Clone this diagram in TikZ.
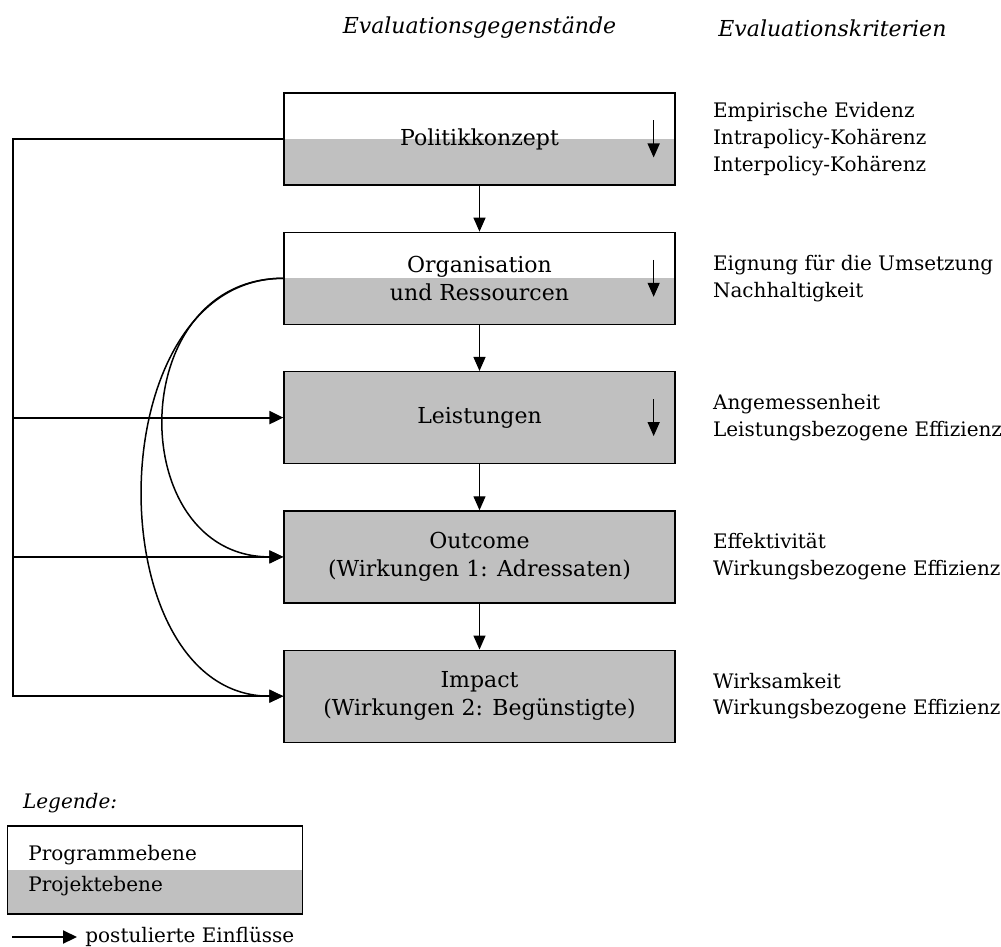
\documentclass[tikz,border=0pt]{standalone}
\usepackage{fontspec}
\setmainfont{DejaVu Serif}
\usetikzlibrary{arrows.meta, calc, positioning}
\definecolor{lgray}{RGB}{192,192,192}
\newcommand\evsize{\fontsize{11}{14}\selectfont}
\newcommand\crsize{\fontsize{10}{13.35}\selectfont}

\begin{document}
\begin{tikzpicture}[x=0.5pt,y=-0.5pt,font=\evsize,
  box/.style={draw,line width=0.65pt,minimum width=195.5pt,minimum height=46pt,align=center,inner sep=0pt},
  halfbox/.style={box,path picture={\fill[lgray] (path picture bounding box.west) rectangle (path picture bounding box.south east);}},
  fullbox/.style={box,fill=lgray},
  crit/.style={anchor=west,align=left,inner sep=0pt,font=\crsize},
  head/.style={font=\evsize\itshape,inner sep=0pt},
  arr/.style={-{Triangle[length=7pt,width=6pt]},line width=0.65pt},
  infl/.style={-{Triangle[length=7pt,width=6.5pt]},line width=1.1pt}]
% Fix the size of the picture
\useasboundingbox (0,0) rectangle (1001,947);
% Column headings
\node[head] (hobj) at (479.5,28) {Evaluationsgegenstände};
\node[head,anchor=west] (hcrit) at (718,28) {Evaluationskriterien};
% The five objects, top to bottom
\node[halfbox] (pk) at (479.5,139) {Politikkonzept};
\node[halfbox,below=23pt of pk] (org) {Organisation\\und Ressourcen};
\node[fullbox,below=23pt of org] (leist) {Leistungen};
\node[fullbox,below=23pt of leist] (outc) {Outcome\\(Wirkungen 1: Adressaten)};
\node[fullbox,below=23pt of outc] (imp) {Impact\\(Wirkungen 2: Begünstigte)};
% Criteria beside each object
\node[crit,right=18.5pt of pk] (cpk) {Empirische Evidenz\\Intrapolicy-Kohärenz\\Interpolicy-Kohärenz};
\node[crit,right=18.5pt of org] (corg) {Eignung für die Umsetzung\\Nachhaltigkeit};
\node[crit,right=18.5pt of leist] (cleist) {Angemessenheit\\Leistungsbezogene Effizienz};
\node[crit,right=18.5pt of outc] (coutc) {Effektivität\\Wirkungsbezogene Effizienz};
\node[crit,right=18.5pt of imp] (cimp) {Wirksamkeit\\Wirkungsbezogene Effizienz};
% Chain of arrows between the objects
\draw[arr] (pk) -- (org);
\draw[arr] (org) -- (leist);
\draw[arr] (leist) -- (outc);
\draw[arr] (outc) -- (imp);
% Small arrows inside the upper boxes
\draw[arr] ([xshift=-11pt,yshift=9.25pt]pk.east) -- ([xshift=-11pt,yshift=-9.25pt]pk.east);
\draw[arr] ([xshift=-11pt,yshift=9.25pt]org.east) -- ([xshift=-11pt,yshift=-9.25pt]org.east);
\draw[arr] ([xshift=-11pt,yshift=9.25pt]leist.east) -- ([xshift=-11pt,yshift=-9.25pt]leist.east);
% Influence of the concept, along the left edge
\coordinate (lft) at (12.6,139);
\draw[infl] (pk.west) -- (lft) |- (imp.west);
\draw[infl] (lft |- leist.west) -- (leist.west);
\draw[infl] (lft |- outc.west) -- (outc.west);
% Influence of the organisation, as curves
\draw[arr,line width=0.75pt] (org.west) to[out=180,in=180,looseness=1.47] (outc.west);
\draw[arr,line width=0.75pt] (org.west) to[out=180,in=180,looseness=1.15] (imp.west);
% Legend
\node[head,font=\crsize\itshape,anchor=west] (leg) at (22.7,803) {Legende:};
\node[halfbox,minimum width=147.7pt,minimum height=44pt] (lbox) at (155,870) {};
\node[crit] (prog) at (28,855) {Programmebene};
\node[crit] (proj) at (28,886) {Projektebene};
\coordinate (la) at (12,937);
\node[anchor=west,inner sep=4pt,font=\crsize] (einfl) at (77,937) {postulierte Einflüsse};
\draw[infl] (la) -- (einfl);
\end{tikzpicture}
\end{document}
